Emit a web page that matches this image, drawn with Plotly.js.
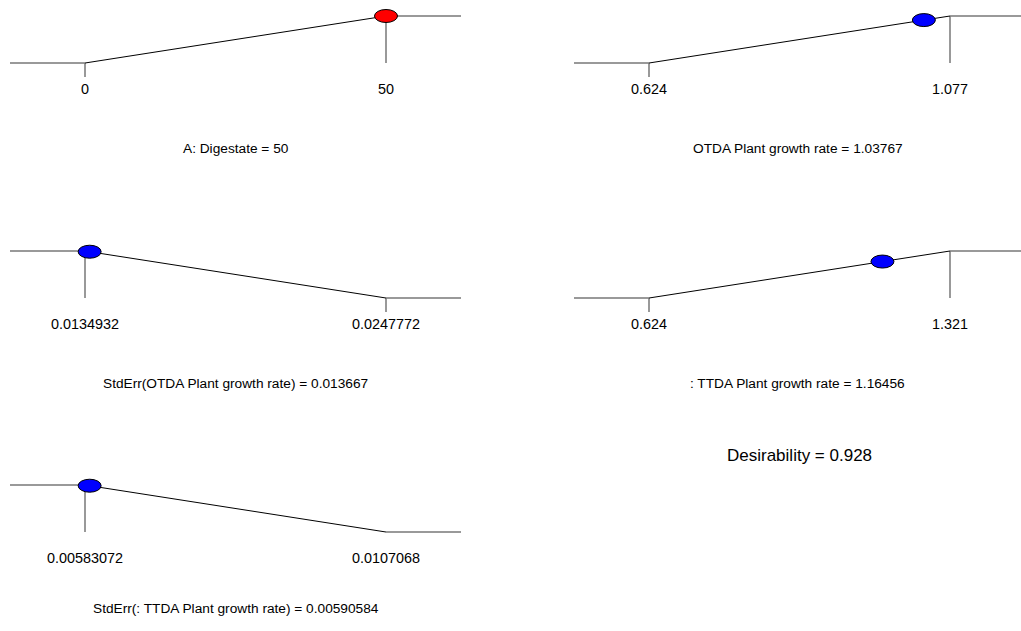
<!DOCTYPE html>
<html>
<head>
<meta charset="utf-8">
<script src="https://cdn.plot.ly/plotly-3.0.1.min.js"></script>
<style>html,body{margin:0;padding:0;background:#fff;}#chart{width:1021px;height:631px;}</style>
</head>
<body>
<div id="chart"></div>
<script>
// ---- data ----
const names = ["A: Digestate", "OTDA Plant growth rate", "StdErr(OTDA Plant growth rate)", ": TTDA Plant growth rate", "StdErr(: TTDA Plant growth rate)"];
const lows = [0, 0.624, 0.0134932, 0.624, 0.00583072];
const highs = [50, 1.077, 0.0247772, 1.321, 0.0107068];
const values = [50, 1.03767, 0.013667, 1.16456, 0.00590584];
const goals = ["max", "max", "min", "max", "min"];
const lowLabels = ["0", "0.624", "0.0134932", "0.624", "0.00583072"];
const highLabels = ["50", "1.077", "0.0247772", "1.321", "0.0107068"];
const valueLabels = ["50", "1.03767", "0.013667", "1.16456", "0.00590584"];
const isFactor = [true, false, false, false, false];
const showZeroTick = [true, true, true, true, false];
const desirability = 0.928;

// ---- layout / style ----
const W = 1021, H = 631;
const FONT = "'Liberation Sans', Arial, sans-serif";
const colLeft = [10, 574], colRight = [461, 1021];
const flatPad = 75, rampPx = 301;
const rowZero = [63, 298, 532];
const unitPx = 47;
const yLo = -0.33, yHi = 1.2, tickLen = 0.3;
const titleY = [148, 383, 608];
const gray = "#777777";

const traces = [], shapes = [], annotations = [];
const layout = {
  width: W, height: H,
  margin: {l: 0, r: 0, t: 0, b: 0},
  paper_bgcolor: "#ffffff", plot_bgcolor: "#ffffff",
  showlegend: false,
  font: {family: FONT, size: 14, color: "#000000"}
};

names.forEach((name, i) => {
  const n = i === 0 ? "" : String(i + 1);
  const col = i % 2, row = Math.floor(i / 2);
  const lo = lows[i], hi = highs[i], span = hi - lo;
  const padR = colRight[col] - colLeft[col] - flatPad - rampPx;
  const xmin = lo - span * flatPad / rampPx;
  const xmax = hi + span * padR / rampPx;
  const dLo = goals[i] === "max" ? 0 : 1;
  const dHi = 1 - dLo;
  const xOne = dHi === 1 ? hi : lo;   // end where desirability = 1
  const xZero = dHi === 1 ? lo : hi;  // end where desirability = 0
  const d = goals[i] === "max" ? (values[i] - lo) / span : (hi - values[i]) / span;
  const xa = "x" + n, ya = "y" + n;

  const z = rowZero[row];
  layout["xaxis" + n] = {
    domain: [colLeft[col] / W, colRight[col] / W],
    range: [xmin, xmax],
    anchor: ya,
    showgrid: false, zeroline: false, showline: false, ticks: "",
    tickmode: "array", tickvals: [lo, hi], ticktext: [lowLabels[i], highLabels[i]],
    tickfont: {family: FONT, size: 14.4, color: "#000000"},
    fixedrange: true
  };
  layout["yaxis" + n] = {
    domain: [1 - (z - yLo * unitPx) / H, 1 - (z - yHi * unitPx) / H],
    range: [yLo, yHi],
    anchor: xa,
    visible: false, fixedrange: true
  };

  const seg = (xs, ys, color, width) => traces.push({
    type: "scatter", mode: "lines", x: xs, y: ys, xaxis: xa, yaxis: ya,
    line: {color: color, width: width}, hoverinfo: "skip", cliponaxis: false
  });
  seg([xmin, lo], [dLo, dLo], gray, 1.5);
  seg([hi, xmax], [dHi, dHi], gray, 1.5);
  seg([xOne, xOne], [1, 0], gray, 1.5);
  if (showZeroTick[i]) seg([xZero, xZero], [0, -tickLen], gray, 1.5);
  seg([lo, hi], [dLo, dHi], "#000000", 1);

  shapes.push({
    type: "circle", xref: xa, yref: ya,
    xsizemode: "pixel", ysizemode: "pixel",
    xanchor: values[i], yanchor: d,
    x0: -11.5, x1: 11.5, y0: -6.5, y1: 6.5,
    fillcolor: isFactor[i] ? "#ff0000" : "#0000ff",
    line: {color: "#000000", width: 1}, layer: "above"
  });

  annotations.push({
    xref: xa + " domain", yref: "paper", x: 0.5, y: 1 - titleY[row] / H,
    xanchor: "center", yanchor: "middle", showarrow: false,
    text: name + " = " + valueLabels[i],
    font: {family: FONT, size: 13.7, color: "#000000"}
  });
});

annotations.push({
  xref: "paper", yref: "paper", x: 799 / W, y: 1 - 455 / H,
  xanchor: "center", yanchor: "middle", showarrow: false,
  text: "Desirability = " + desirability.toFixed(3),
  font: {family: FONT, size: 17, color: "#000000"}
});

layout.shapes = shapes;
layout.annotations = annotations;

Plotly.newPlot("chart", traces, layout, {displayModeBar: false, staticPlot: true});
</script>
</body>
</html>
